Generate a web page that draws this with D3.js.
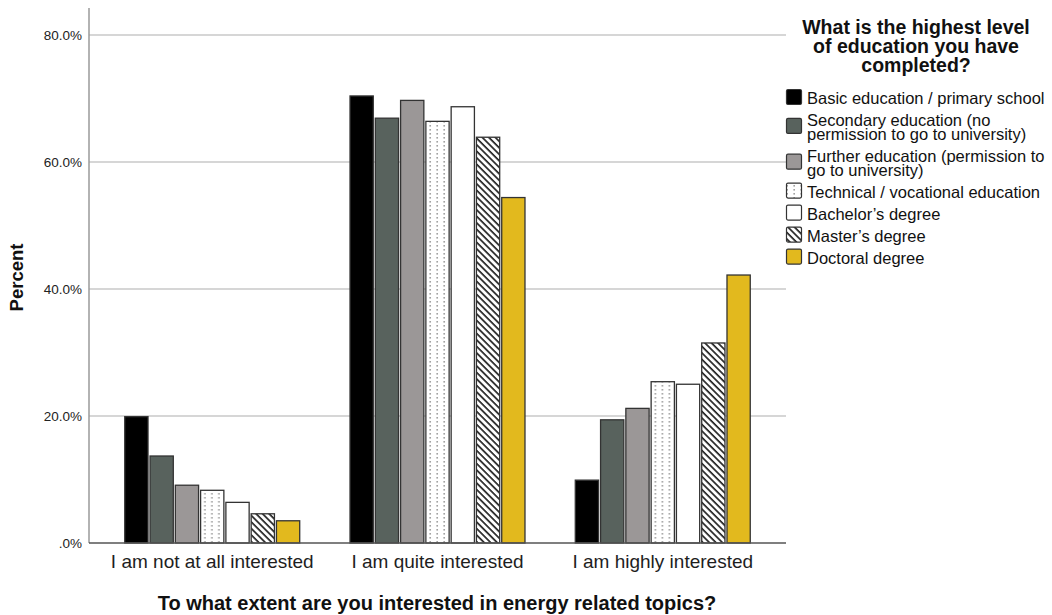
<!DOCTYPE html>
<html>
<head>
<meta charset="utf-8">
<script src="https://cdn.jsdelivr.net/npm/d3@7"></script>
<style>
  html, body { margin: 0; padding: 0; background: #fff; }
  svg { display: block; font-family: "Liberation Sans", Arial, sans-serif; }
</style>
</head>
<body>
<svg id="chart" width="1052" height="615"></svg>
<script>
// ---- Data ----
const categories = ["I am not at all interested", "I am quite interested", "I am highly interested"];
const seriesNames = [
  "Basic education / primary school",
  "Secondary education (no permission to go to university)",
  "Further education (permission to go to university)",
  "Technical / vocational education",
  "Bachelor's degree",
  "Master's degree",
  "Doctoral degree"
];
const legendLines = [
  ["Basic education / primary school"],
  ["Secondary education (no", "permission to go to university)"],
  ["Further education (permission to", "go to university)"],
  ["Technical / vocational education"],
  ["Bachelor\u2019s degree"],
  ["Master\u2019s degree"],
  ["Doctoral degree"]
];
// percent values per series, ordered by categories
const basicVals      = [19.9, 70.4,  9.9];
const secondaryVals  = [13.7, 66.9, 19.4];
const furtherVals    = [ 9.1, 69.7, 21.2];
const technicalVals  = [ 8.3, 66.4, 25.4];
const bachelorVals   = [ 6.4, 68.7, 25.0];
const masterVals     = [ 4.6, 63.9, 31.5];
const doctoralVals   = [ 3.5, 54.4, 42.2];
const seriesValues = [basicVals, secondaryVals, furtherVals, technicalVals, bachelorVals, masterVals, doctoralVals];
const yTicks = [0, 20, 40, 60, 80];
const legendTitle = ["What is the highest level", "of education you have", "completed?"];
const xTitle = "To what extent are you interested in energy related topics?";
const yTitle = "Percent";

(function () {
// ---- Styles ----
const fills = ["#000000", "#58625d", "#9b9797", "url(#dots)", "#ffffff", "url(#hatch)", "#e2b91e"];

const svg = d3.select("#chart");
const defs = svg.append("defs");
const dots = defs.append("pattern").attr("id", "dots").attr("patternUnits", "userSpaceOnUse")
  .attr("width", 7).attr("height", 4);
dots.append("rect").attr("width", 7).attr("height", 4).attr("fill", "#fff");
dots.append("rect").attr("x", 2.5).attr("y", 1).attr("width", 1.3).attr("height", 1.6).attr("fill", "#8a8a8a");
const hatch = defs.append("pattern").attr("id", "hatch").attr("patternUnits", "userSpaceOnUse")
  .attr("width", 4.6).attr("height", 4.6).attr("patternTransform", "rotate(-45)");
hatch.append("rect").attr("width", 4.6).attr("height", 4.6).attr("fill", "#fff");
hatch.append("line").attr("x1", 1).attr("y1", 0).attr("x2", 1).attr("y2", 4.6)
  .attr("stroke", "#222").attr("stroke-width", 1.7);

// ---- Scales ----
const pLeft = 89, pRight = 786, pTop = 8, pBottom = 543;
const y = d3.scaleLinear().domain([0, 84.25]).range([pBottom, pTop]);
const x0 = d3.scaleBand().domain(categories).range([pLeft, pRight]).paddingInner(0.2233).paddingOuter(0.1587);
const x1 = d3.scaleBand().domain(d3.range(seriesNames.length)).range([0, x0.bandwidth()]).paddingInner(0.08);

// ---- Gridlines ----
svg.append("g").selectAll("line").data(yTicks.filter(d => d > 0)).join("line")
  .attr("x1", pLeft).attr("x2", pRight)
  .attr("y1", d => y(d)).attr("y2", d => y(d))
  .attr("stroke", "#c9c9c9").attr("stroke-width", 1.5);

// ---- Y axis ----
const yAxis = d3.axisLeft(y).tickValues(yTicks).tickSize(0).tickPadding(7)
  .tickFormat(d => d === 0 ? ".0%" : d.toFixed(1) + "%");
const yg = svg.append("g").attr("transform", `translate(${pLeft},0)`).call(yAxis);
yg.select(".domain").remove();
yg.selectAll("text").attr("font-size", 13.5).attr("fill", "#222")
  .attr("font-family", "Liberation Sans, Arial, sans-serif");
svg.append("line").attr("x1", pLeft).attr("x2", pLeft).attr("y1", pTop).attr("y2", pBottom)
  .attr("stroke", "#9a9a9a").attr("stroke-width", 1.5);

// ---- Bars ----
const groups = svg.append("g").selectAll("g").data(categories).join("g")
  .attr("transform", d => `translate(${x0(d)},0)`);
groups.selectAll("rect").data((c, ci) => seriesValues.map((vals, si) => ({ si, v: vals[ci] }))).join("rect")
  .attr("x", d => x1(d.si))
  .attr("width", x1.bandwidth())
  .attr("y", d => y(d.v))
  .attr("height", d => y(0) - y(d.v))
  .attr("fill", d => fills[d.si])
  .attr("stroke", "#333")
  .attr("stroke-width", 1.3);

// ---- X axis ----
const xAxis = d3.axisBottom(x0).tickSize(0).tickPadding(12);
const xg = svg.append("g").attr("transform", `translate(0,${pBottom})`).call(xAxis);
xg.select(".domain").remove();
xg.selectAll("text").attr("font-size", 19).attr("fill", "#1e1e1e")
  .attr("font-family", "Liberation Sans, Arial, sans-serif");
svg.append("line").attr("x1", pLeft).attr("x2", pRight).attr("y1", pBottom).attr("y2", pBottom)
  .attr("stroke", "#555").attr("stroke-width", 1.5);

// ---- Axis titles ----
svg.append("text").attr("x", 437).attr("y", 610)
  .attr("text-anchor", "middle").attr("font-size", 20).attr("font-weight", "bold").attr("fill", "#111")
  .text(xTitle);
svg.append("text").attr("transform", `translate(23,${(pTop + pBottom) / 2 + 2}) rotate(-90)`)
  .attr("text-anchor", "middle").attr("font-size", 18.5).attr("font-weight", "bold").attr("fill", "#111")
  .text(yTitle);

// ---- Legend ----
const lg = svg.append("g");
lg.selectAll("text.title").data(legendTitle).join("text").attr("class", "title")
  .attr("x", 916).attr("y", (d, i) => 34 + i * 19)
  .attr("text-anchor", "middle").attr("font-size", 19.5).attr("font-weight", "bold").attr("fill", "#111")
  .text(d => d);

let base = 104;
legendLines.forEach((lines, i) => {
  const first = base, last = base + (lines.length - 1) * 13.8;
  const cy = (first + last) / 2 - 7;
  lg.append("rect").attr("x", 786.5).attr("y", cy - 7.5).attr("width", 15).attr("height", 15)
    .attr("rx", 1.5).attr("fill", fills[i]).attr("stroke", "#333").attr("stroke-width", 1.2);
  lines.forEach((t, j) => {
    lg.append("text").attr("x", 807).attr("y", first + j * 13.8)
      .attr("font-size", 16.5).attr("fill", "#111").text(t);
  });
  base = last + 22;
});
})();
</script>
</body>
</html>
